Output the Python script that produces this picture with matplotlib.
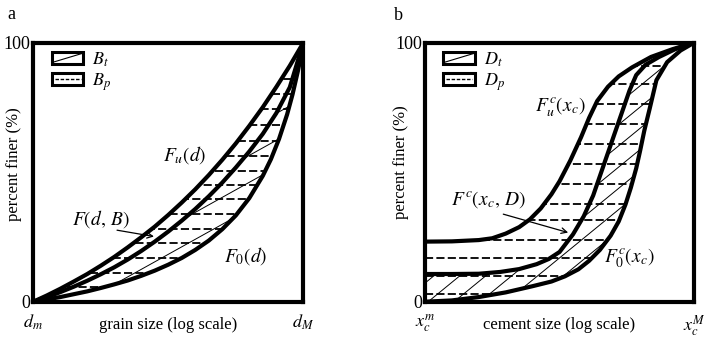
import numpy as np
import matplotlib
matplotlib.use('Agg')
import matplotlib.pyplot as plt
from matplotlib.patches import Polygon, Rectangle
from matplotlib.lines import Line2D
from matplotlib.legend_handler import HandlerBase

plt.rcParams['font.family'] = ['Liberation Serif', 'DejaVu Serif']
plt.rcParams['mathtext.fontset'] = 'stix'

# ---------------- panel a: grain size (x scaled 0..1 from d_m to d_M) ----------------
a_up_x = [0, 0.05, 0.1, 0.15, 0.2, 0.25, 0.3, 0.35, 0.4, 0.45, 0.5, 0.55, 0.6, 0.65, 0.7,
          0.75, 0.8, 0.85, 0.9, 0.95, 1.0]
a_up_y = [0, 2.4, 5.0, 7.8, 10.7, 13.9, 17.3, 21.0, 24.9, 29.0, 33.5, 38.3, 43.4, 48.9, 54.8,
          61.1, 67.9, 75.1, 82.9, 91.1, 100]
a_mid_x = a_up_x
a_mid_y = [0, 1.8, 3.7, 5.8, 8.1, 10.6, 13.3, 16.3, 19.6, 23.2, 27.1, 31.3, 35.8, 40.7, 46.0,
           51.8, 58.0, 64.8, 72.8, 82.8, 100]
a_low_x = [0, 0.05, 0.1, 0.15, 0.2, 0.25, 0.3, 0.35, 0.4, 0.45, 0.5, 0.55, 0.6, 0.65, 0.7,
           0.75, 0.8, 0.85, 0.88, 0.91, 0.94, 0.96, 0.98, 0.99, 1.0]
a_low_y = [0, 0.9, 1.8, 2.9, 4.0, 5.3, 6.7, 8.2, 10.0, 12.0, 14.3, 16.9, 20.0, 23.6, 28.0,
           33.3, 40.0, 48.6, 55.0, 62.8, 72.3, 80.0, 89.1, 94.3, 100]
a_dash_levels = [5.5, 10.9, 16.7, 22.5, 28.1, 33.8, 39.5, 45.0, 50.6, 56.2, 62.2, 68.2,
                 74.3, 80.2, 86.0]

# ---------------- panel b: cement size (x scaled 0..1 from x_c^m to x_c^M) ----------------
b_up_x = [0, 0.1, 0.2, 0.25, 0.3, 0.35, 0.39, 0.43, 0.47, 0.5, 0.54, 0.58, 0.61, 0.64, 0.68,
          0.72, 0.77, 0.84, 0.92, 1.0]
b_up_y = [23.2, 23.3, 23.8, 24.5, 26.3, 28.8, 31.8, 36.0, 41.5, 46.5, 54.5, 63.5, 71.0, 77.5,
          83.0, 87.0, 90.5, 94.5, 97.5, 100]
b_mid_x = [0, 0.1, 0.2, 0.28, 0.35, 0.415, 0.46, 0.5, 0.55, 0.59, 0.625, 0.655, 0.685, 0.71,
           0.735, 0.76, 0.785, 0.82, 0.87, 0.93, 1.0]
b_mid_y = [10.7, 10.7, 10.8, 11.5, 12.6, 14.5, 16.5, 19.2, 26.0, 33.0, 41.0, 50.0, 59.0, 66.5,
           74.0, 81.5, 87.5, 91.5, 94.5, 97.5, 100]
b_low_x = [0, 0.1, 0.2, 0.3, 0.4, 0.47, 0.52, 0.57, 0.61, 0.65, 0.69, 0.72, 0.745, 0.765,
           0.785, 0.8, 0.815, 0.835, 0.86, 0.9, 0.95, 1.0]
b_low_y = [0, 0.5, 1.8, 3.6, 6.0, 7.8, 9.8, 12.5, 15.8, 20.0, 25.5, 31.0, 37.5, 44.0, 51.5,
           58.5, 66.0, 74.5, 85.5, 92.5, 97.0, 100]
b_dash_levels = [3.0, 10.0, 17.0, 24.0, 31.5, 37.6, 45.3, 53.0, 60.7, 68.5, 76.2, 84.0, 91.0]


class BoxHandler(HandlerBase):
    # little framed box with either one diagonal or one dashed line inside
    def __init__(self, kind):
        super().__init__()
        self.kind = kind

    def create_artists(self, legend, orig_handle, xdescent, ydescent, width, height,
                       fontsize, trans):
        x0, y0 = -xdescent, -ydescent
        box = Rectangle((x0, y0), width, height, facecolor='white', edgecolor='black',
                        lw=2.2, transform=trans)
        if self.kind == 'diag':
            ln = Line2D([x0 + 1, x0 + width - 1], [y0 + 1, y0 + height - 1], color='black',
                        lw=0.8, transform=trans)
        else:
            ln = Line2D([x0 + 2, x0 + width - 2], [y0 + height / 2] * 2, color='black',
                        lw=1.0, ls=(0, (2.5, 1.2)), transform=trans)
        return [box, ln]


def region(ax, x1, y1, x2, y2):
    # invisible polygon between two curves, used as clip path
    verts = np.column_stack([np.r_[x1, x2[::-1]], np.r_[y1, y2[::-1]]])
    poly = Polygon(verts, closed=True, facecolor='none', edgecolor='none')
    ax.add_patch(poly)
    return poly


def panel(ax, up, mid, low, levels, slope, off0, step):
    p_region = region(ax, np.array(up[0]), np.array(up[1]), np.array(low[0]), np.array(low[1]))
    t_region = region(ax, np.array(mid[0]), np.array(mid[1]), np.array(low[0]), np.array(low[1]))

    # dashed horizontal hatching between upper and lower bound
    for lev in levels:
        ln, = ax.plot([0, 1], [lev, lev], color='black', lw=1.3, ls=(0, (4.5, 1.8)), zorder=1)
        ln.set_clip_path(p_region)

    # thin sloped hatching between the curve and the lower bound
    for c in np.arange(off0 - 10 * step, off0 + 12 * step, step):
        ln, = ax.plot([0, 1], [c, c + slope], color='black', lw=0.7, zorder=1)
        ln.set_clip_path(t_region)

    for xs, ys in (up, mid, low):
        ax.plot(xs, ys, color='black', lw=3.0, solid_capstyle='round', zorder=3)

    ax.set_xlim(0, 1)
    ax.set_ylim(0, 100)
    ax.set_yticks([0, 100])
    ax.set_yticklabels(['0', '100'])
    ax.tick_params(axis='both', length=0, labelsize=13)
    ax.tick_params(axis='y', pad=2)
    ax.tick_params(axis='x', pad=8)
    for s in ax.spines.values():
        s.set_linewidth(3.0)
        s.set_zorder(5)
    ax.set_ylabel('percent finer (%)', fontsize=12)
    h1 = Line2D([], [])
    h2 = Line2D([], [])
    return h1, h2


def box_legend(ax, h1, h2, names):
    ax.legend([h1, h2], names, loc='upper left', bbox_to_anchor=(0.055, 0.985),
              frameon=False, fontsize=13,
              handler_map={h1: BoxHandler('diag'), h2: BoxHandler('dash')},
              handlelength=1.75, handleheight=0.6, handletextpad=0.5, labelspacing=0.15,
              borderaxespad=0, borderpad=0.2)


fig = plt.figure(figsize=(7.08, 3.40), dpi=100)
ax1 = fig.add_axes([0.047, 0.1126, 0.3814, 0.7618])
ax2 = fig.add_axes([0.6003, 0.1126, 0.3800, 0.7618])

# ---- panel a ----
h1, h2 = panel(ax1, (a_up_x, a_up_y), (a_mid_x, a_mid_y), (a_low_x, a_low_y),
               a_dash_levels, 58, -10.7, 10.4)
ax1.set_xticks([0, 1])
ax1.set_xticklabels([r'$d_m$', r'$d_M$'])
ax1.set_xlabel('grain size (log scale)', fontsize=12)
ax1.xaxis.set_label_coords(0.5, -0.06)
ax1.yaxis.set_label_coords(-0.04, 0.53)
box_legend(ax1, h1, h2, [r'$B_t$', r'$B_p$'])
ax1.text(0.56, 56.5, r'$F_u\left(d\right)$', fontsize=14, ha='center', va='center')
ax1.text(0.25, 32, r'$F\left(d,\,B\right)$', fontsize=14, ha='center', va='center')
ax1.text(0.785, 17.5, r'$F_0\left(d\right)$', fontsize=14, ha='center', va='center')
ax1.annotate('', xy=(0.457, 25), xytext=(0.30, 27.8),
             arrowprops=dict(arrowstyle='->', color='black', lw=0.9))

# ---- panel b ----
h3, h4 = panel(ax2, (b_up_x, b_up_y), (b_mid_x, b_mid_y), (b_low_x, b_low_y),
               b_dash_levels, 85, -1.0, 8.2)
ax2.set_xticks([0, 1])
ax2.set_xticklabels([r'$x_c^m$', r'$x_c^M$'])
ax2.set_xlabel('cement size (log scale)', fontsize=12)
ax2.xaxis.set_label_coords(0.5, -0.06)
ax2.yaxis.set_label_coords(-0.06, 0.54)
box_legend(ax2, h3, h4, [r'$D_t$', r'$D_p$'])
ax2.text(0.504, 75.2, r'$F_u^c\left(x_c\right)$', fontsize=14, ha='center', va='center')
ax2.text(0.234, 39.5, r'$F^c\left(x_c,\,D\right)$', fontsize=14, ha='center', va='center')
ax2.text(0.758, 16.7, r'$F_0^c\left(x_c\right)$', fontsize=14, ha='center', va='center')
ax2.annotate('', xy=(0.542, 26.4), xytext=(0.281, 34.1),
             arrowprops=dict(arrowstyle='->', color='black', lw=0.9))

fig.text(0.011, 0.945, 'a', fontsize=13)
fig.text(0.556, 0.94, 'b', fontsize=13)

fig.savefig('out.png', dpi=100)
